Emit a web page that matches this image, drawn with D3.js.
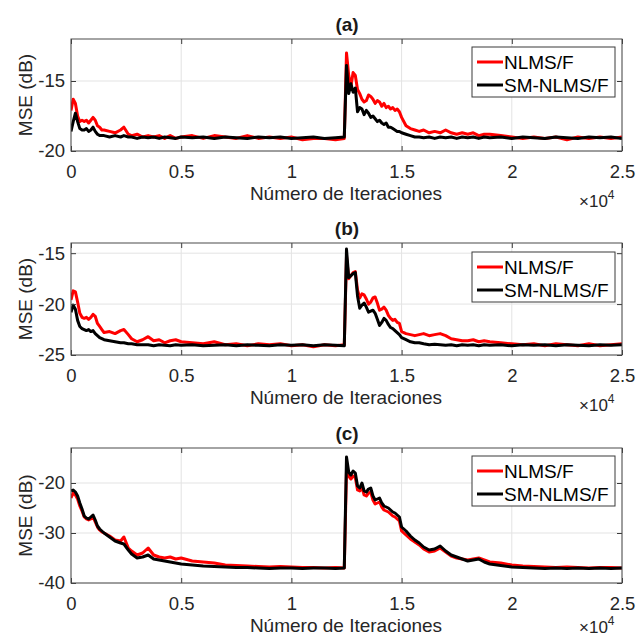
<!DOCTYPE html>
<html>
<head>
<meta charset="utf-8">
<script src="https://cdn.jsdelivr.net/npm/d3@7"></script>
<style>
body { margin: 0; background: #fff; }
svg { font-family: "Liberation Sans", Arial, Helvetica, sans-serif; }
.grid line { stroke: #e3e3e3; stroke-width: 1; }
.axis text { font-size: 18.5px; fill: #262626; }
.axis line { stroke: #3a3a3a; }
.axis path { display: none; }
</style>
</head>
<body>
<div id="chart"></div>
<script>
var width = 639;
var height = 637;

// iteration grid shared by all curves
var iters = [0,100,200,300,400,500,600,700,800,900,1000,1100,1200,1300,1400,1500,
  1750,2000,2250,2400,2600,2750,3000,3250,3500,3750,4000,4250,4500,4750,5000,
  5500,6000,6500,7000,7500,8000,8500,9000,9500,10000,10500,11000,11500,12000,12400,
  12500,12600,12700,12800,12900,13000,13100,13200,13300,13400,13500,13600,13700,13800,13900,
  14000,14100,14200,14300,14400,14500,14600,14700,14800,14900,15000,
  15200,15400,15600,15800,16000,16250,16500,16750,17000,17250,17500,17750,18000,18250,18500,18750,19000,
  19500,20000,20500,21000,21500,22000,22500,23000,23500,24000,24500,25000];

var seriesNames = ["NLMS/F", "SM-NLMS/F"];
var xTicks = [0,5000,10000,15000,20000,25000];
var xTickLabels = ["0","0.5","1","1.5","2","2.5"];

// panel (a)
var aNLMS = [-17.1,-16.3,-16.6,-17.5,-17.9,-17.8,-17.9,-17.8,-18.0,-17.8,-17.6,-17.8,-18.2,-18.3,-18.5,-18.5,
  -18.6,-18.7,-18.5,-18.3,-18.8,-18.9,-18.8,-19.0,-18.9,-19.0,-18.9,-19.1,-18.9,-19.1,-19.0,
  -18.9,-19.1,-18.9,-19.0,-19.1,-18.9,-19.1,-19.0,-19.1,-19.0,-19.2,-19.1,-19.1,-19.2,-19.1,
  -13.0,-14.6,-15.4,-14.4,-14.6,-15.6,-15.9,-16.3,-16.5,-16.4,-16.0,-16.1,-16.3,-16.6,-16.4,
  -16.5,-16.8,-16.6,-16.9,-16.8,-17.0,-16.9,-17.1,-17.0,-17.2,-17.6,
  -18.2,-18.4,-18.5,-18.6,-18.5,-18.7,-18.6,-18.7,-18.5,-18.7,-18.8,-18.7,-18.8,-18.7,-18.9,-18.8,-18.8,
  -18.9,-19.0,-19.1,-19.0,-19.1,-19.0,-19.2,-19.0,-19.1,-19.0,-19.1,-19.0];
var aSM = [-18.6,-17.9,-17.3,-17.9,-18.4,-18.5,-18.5,-18.4,-18.6,-18.5,-18.3,-18.6,-18.8,-18.9,-18.9,-18.9,
  -19.0,-18.9,-19.0,-18.9,-19.0,-19.0,-19.1,-19.0,-19.05,-19.0,-19.1,-19.0,-19.05,-19.1,-19.0,
  -19.05,-19.0,-19.1,-19.0,-19.05,-19.1,-19.0,-19.05,-19.0,-19.1,-19.05,-19.0,-19.1,-19.05,-19.0,
  -13.9,-15.9,-15.2,-15.8,-15.5,-17.2,-16.9,-17.0,-17.4,-17.1,-17.3,-17.6,-17.5,-17.7,-17.9,
  -17.8,-18.0,-18.1,-18.0,-18.3,-18.3,-18.4,-18.5,-18.6,-18.6,-18.7,
  -18.8,-18.9,-19.0,-19.0,-19.05,-19.0,-19.1,-19.0,-19.05,-19.0,-19.1,-19.0,-19.05,-19.0,-19.1,-19.0,-19.05,
  -19.0,-19.1,-19.0,-19.05,-19.1,-19.0,-19.05,-19.1,-19.0,-19.05,-19.0,-19.1];

// panel (b)
var bNLMS = [-19.6,-18.7,-18.8,-19.8,-20.9,-21.3,-21.4,-21.3,-21.5,-21.3,-21.0,-21.2,-21.9,-22.2,-22.5,-22.8,
  -22.7,-22.9,-22.6,-22.5,-23.0,-23.4,-23.7,-23.5,-23.2,-23.6,-23.5,-23.8,-23.6,-23.5,-23.7,
  -23.8,-23.9,-23.7,-24.0,-23.9,-24.1,-23.9,-24.0,-23.9,-24.1,-24.0,-24.2,-24.0,-24.1,-24.0,
  -15.3,-17.5,-17.2,-16.9,-16.8,-18.6,-19.4,-19.0,-19.1,-19.5,-20.0,-19.8,-19.4,-19.3,-19.9,
  -20.6,-20.5,-20.3,-20.6,-21.1,-21.4,-21.6,-21.5,-21.8,-21.9,-22.7,
  -22.9,-23.0,-23.1,-23.0,-22.9,-23.1,-23.0,-22.9,-23.1,-23.4,-23.5,-23.6,-23.6,-23.5,-23.7,-23.6,-23.7,
  -23.8,-23.9,-24.0,-23.9,-24.1,-23.9,-24.0,-24.1,-23.9,-24.1,-24.0,-23.9];
var bSM = [-20.8,-20.1,-20.5,-21.6,-22.2,-22.4,-22.5,-22.6,-22.5,-22.7,-22.6,-22.9,-23.1,-23.3,-23.4,-23.5,
  -23.6,-23.7,-23.8,-23.8,-23.9,-23.9,-24.0,-24.0,-24.0,-24.1,-24.0,-24.05,-24.1,-24.0,-24.05,
  -24.0,-24.1,-24.05,-24.0,-24.1,-24.0,-24.05,-24.1,-24.0,-24.05,-24.0,-24.1,-24.0,-24.05,-24.1,
  -14.6,-17.4,-17.2,-17.0,-16.9,-19.2,-20.4,-20.1,-19.9,-20.3,-20.8,-20.7,-20.6,-20.9,-21.5,
  -22.1,-21.8,-21.4,-21.6,-22.0,-22.3,-22.4,-22.6,-22.8,-23.0,-23.3,
  -23.5,-23.7,-23.8,-23.8,-23.9,-24.0,-23.95,-24.0,-24.05,-24.0,-24.1,-24.0,-24.05,-24.0,-24.1,-24.0,-24.05,
  -24.0,-24.1,-24.0,-24.05,-24.0,-24.1,-24.0,-24.05,-24.1,-24.0,-24.05,-24.0];

// panel (c)
var cNLMS = [-23.0,-22.0,-22.4,-23.2,-24.6,-25.6,-26.8,-27.2,-27.4,-27.2,-26.8,-27.8,-28.8,-29.4,-29.8,-30.0,
  -30.6,-31.4,-31.6,-30.8,-33.0,-33.6,-34.4,-34.0,-33.0,-34.4,-34.8,-35.0,-34.8,-35.2,-35.0,
  -35.6,-35.8,-36.0,-36.4,-36.5,-36.6,-36.7,-36.8,-36.7,-36.8,-36.9,-36.9,-37.0,-36.9,-37.0,
  -17.6,-18.6,-19.2,-18.6,-18.9,-21.4,-21.6,-20.8,-22.4,-22.6,-22.0,-21.8,-23.4,-24.2,-24.0,
  -23.8,-24.8,-25.4,-25.6,-25.8,-26.2,-26.6,-26.8,-27.2,-27.6,-29.6,
  -30.4,-31.2,-31.8,-32.4,-33.2,-33.8,-33.6,-33.0,-33.8,-34.6,-35.0,-35.2,-35.4,-35.2,-35.0,-35.4,-35.8,
  -36.0,-36.4,-36.6,-36.7,-36.8,-36.9,-36.8,-36.9,-37.0,-36.9,-36.9,-37.0];
var cSM = [-21.6,-21.4,-21.8,-22.6,-24.0,-25.2,-26.6,-27.0,-27.2,-26.8,-26.4,-27.4,-28.6,-29.2,-29.6,-30.0,
  -30.8,-31.6,-32.0,-32.2,-33.4,-34.2,-35.0,-34.8,-34.4,-35.2,-35.4,-35.6,-35.8,-36.0,-36.2,
  -36.4,-36.6,-36.7,-36.8,-36.9,-36.9,-37.0,-37.1,-37.0,-37.0,-37.1,-37.0,-37.0,-37.1,-37.0,
  -14.8,-17.8,-18.4,-17.6,-18.0,-20.6,-21.0,-20.0,-21.6,-21.8,-21.2,-21.0,-22.6,-23.4,-23.2,
  -23.0,-24.0,-24.6,-24.8,-25.0,-25.4,-25.8,-26.0,-26.4,-26.8,-28.8,
  -29.6,-30.6,-31.4,-32.0,-32.8,-33.4,-33.2,-32.6,-33.6,-34.4,-34.8,-35.2,-35.6,-35.4,-35.2,-35.8,-36.2,
  -36.5,-36.8,-36.9,-37.0,-37.1,-37.0,-37.1,-37.0,-37.1,-37.0,-37.1,-37.0];

var aYTicks = [-20,-15];
var bYTicks = [-25,-20,-15];
var cYTicks = [-40,-30,-20];

var panels = [
  {title: "(a)", top: 39, bottom: 151, domain: [-20,-12], yTicks: aYTicks, series: [aNLMS, aSM], legendTop: 47},
  {title: "(b)", top: 243, bottom: 355, domain: [-25,-14], yTicks: bYTicks, series: [bNLMS, bSM], legendTop: 252},
  {title: "(c)", top: 448, bottom: 583, domain: [-40,-13], yTicks: cYTicks, series: [cNLMS, cSM], legendTop: 456}
];
var colors = ["#ff0000", "#000000"];
var left = 71, right = 622;

var svg = d3.select("#chart").append("svg")
    .attr("width", width)
    .attr("height", height);

var xScale = d3.scaleLinear().domain([0,25000]).range([left,right]);

panels.forEach(function(p, i) {
  var yScale = d3.scaleLinear().domain(p.domain).range([p.bottom, p.top]);
  var g = svg.append("g");

  g.append("clipPath").attr("id", "clip" + i)
    .append("rect").attr("x", left).attr("y", p.top).attr("width", right - left).attr("height", p.bottom - p.top);

  // grid
  var grid = g.append("g").attr("class", "grid");
  grid.selectAll(".vx").data(xTicks).enter().append("line")
    .attr("x1", function(d) { return xScale(d); }).attr("x2", function(d) { return xScale(d); })
    .attr("y1", p.top).attr("y2", p.bottom);
  grid.selectAll(".hy").data(p.yTicks).enter().append("line")
    .attr("y1", function(d) { return yScale(d); }).attr("y2", function(d) { return yScale(d); })
    .attr("x1", left).attr("x2", right);

  // curves
  var line = d3.line()
    .x(function(d, j) { return xScale(iters[j]); })
    .y(function(d) { return yScale(d); });
  p.series.forEach(function(s, k) {
    g.append("path")
      .attr("d", line(s))
      .attr("fill", "none")
      .attr("stroke", colors[k])
      .attr("stroke-width", 3)
      .attr("stroke-linejoin", "round")
      .attr("clip-path", "url(#clip" + i + ")");
  });

  // axes
  g.append("g").attr("class", "axis")
    .attr("transform", "translate(0," + p.bottom + ")")
    .call(d3.axisBottom(xScale).tickValues(xTicks)
      .tickFormat(function(d, j) { return xTickLabels[j]; })
      .tickSizeInner(-5).tickSizeOuter(0).tickPadding(14));
  g.append("g").attr("class", "axis")
    .attr("transform", "translate(0," + p.top + ")")
    .call(d3.axisTop(xScale).tickValues(xTicks).tickFormat("").tickSizeInner(-5).tickSizeOuter(0));
  g.append("g").attr("class", "axis")
    .attr("transform", "translate(" + left + ",0)")
    .call(d3.axisLeft(yScale).tickValues(p.yTicks).tickFormat(function(d) { return String(d); })
      .tickSizeInner(-5).tickSizeOuter(0).tickPadding(6));
  g.append("g").attr("class", "axis")
    .attr("transform", "translate(" + right + ",0)")
    .call(d3.axisRight(yScale).tickValues(p.yTicks).tickFormat("").tickSizeInner(-5).tickSizeOuter(0));

  g.append("rect")
    .attr("x", left).attr("y", p.top)
    .attr("width", right - left).attr("height", p.bottom - p.top)
    .attr("fill", "none").attr("stroke", "#4a4a4a").attr("stroke-width", 1);

  // title
  g.append("text")
    .attr("x", 347).attr("y", p.top - 8)
    .attr("text-anchor", "middle")
    .attr("font-size", 19).attr("font-weight", "bold").attr("fill", "#1a1a1a")
    .text(p.title);

  // x label
  g.append("text")
    .attr("x", 346).attr("y", p.bottom + 49)
    .attr("text-anchor", "middle")
    .attr("font-size", 19).attr("fill", "#262626")
    .text("Número de Iteraciones");

  // x10^4
  var mult = g.append("text")
    .attr("x", 579).attr("y", Math.min(p.bottom + 56, height - 4))
    .attr("font-size", 17).attr("fill", "#262626");
  mult.append("tspan").text("\u00d710");
  mult.append("tspan").attr("dy", -8).attr("font-size", 12).text("4");

  // y label
  g.append("text")
    .attr("transform", "translate(32," + ((p.top + p.bottom) / 2) + ") rotate(-90)")
    .attr("text-anchor", "middle")
    .attr("font-size", 19).attr("fill", "#262626")
    .text("MSE (dB)");

  // legend
  var lg = g.append("g").attr("transform", "translate(472," + p.legendTop + ")");
  lg.append("rect").attr("width", 143).attr("height", 50)
    .attr("fill", "#fff").attr("stroke", "#3a3a3a").attr("stroke-width", 1);
  seriesNames.forEach(function(name, k) {
    var yy = 15 + k * 23;
    lg.append("line").attr("x1", 5).attr("x2", 31).attr("y1", yy).attr("y2", yy)
      .attr("stroke", colors[k]).attr("stroke-width", 3);
    lg.append("text").attr("x", 32).attr("y", yy + 7)
      .attr("font-size", 19).attr("fill", "#000").text(name);
  });
});
</script>
</body>
</html>
